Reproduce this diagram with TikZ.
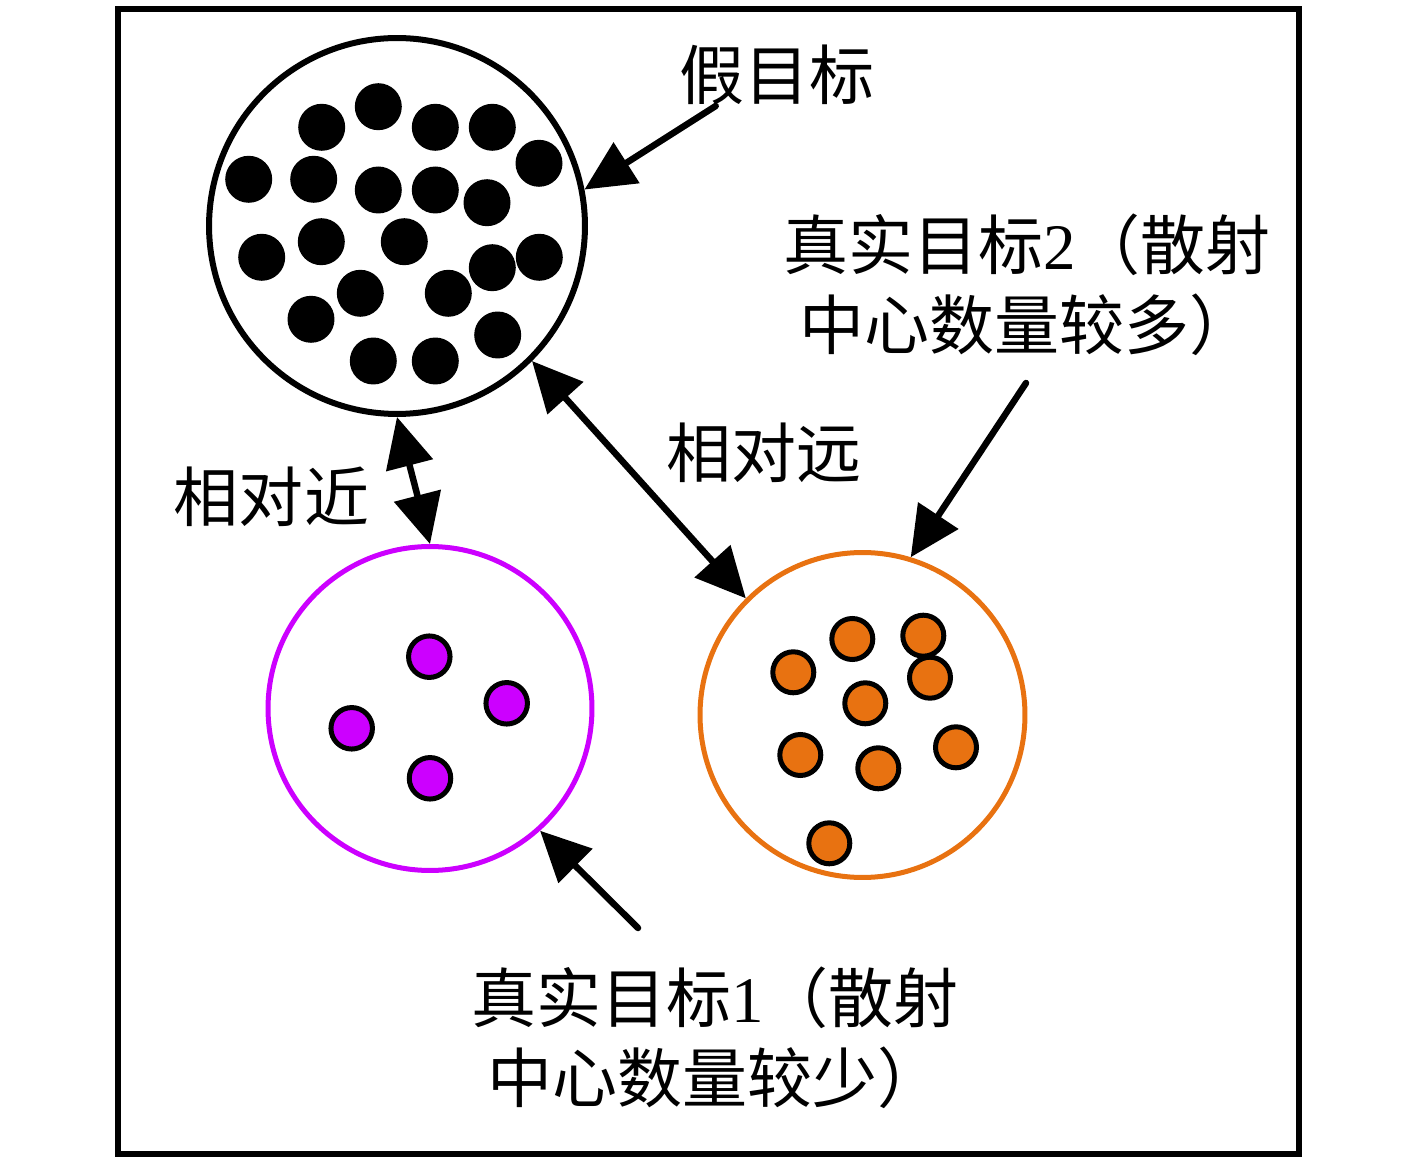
\documentclass[tikz,border=0pt]{standalone}
\usepackage{fontspec}
\setmainfont{Liberation Serif}
\newfontfamily\cjk{Noto Sans CJK SC}
\usetikzlibrary{arrows.meta}
\definecolor{violetline}{RGB}{204,0,255}
\definecolor{orangeline}{RGB}{232,114,17}
\tikzset{
  cluster/.style={circle, draw, inner sep=0pt},
  pointer/.style={line width=0.13cm, line cap=round, -{Triangle[length=1cm,width=0.94cm]}},
  twoway/.style={line width=0.13cm, {Triangle[length=1cm,width=0.94cm]}-{Triangle[length=1cm,width=0.94cm]}},
  label/.style={inner sep=0pt, align=center, font=\fontsize{37pt}{45.5pt}\selectfont\cjk}
}
\begin{document}
\begin{tikzpicture}[x=0.02cm, y=-0.02cm]
	\useasboundingbox (0,0) rectangle (1417,1165);
	
	% Draw the outer frame
	\draw[line width=0.12cm] (118,9) rectangle (1298.7,1154.3);
	
	% Draw the three clusters
	\node[cluster, line width=0.12cm, minimum size=7.52cm] (fake) at (397,226) {};
	\node[cluster, draw=violetline, line width=0.1cm, minimum size=6.48cm] (trueA) at (430,708.5) {};
	\node[cluster, draw=orangeline, line width=0.1cm, minimum size=6.5cm] (trueB) at (862.5,715) {};
	
	% Draw the scattering centres of the false target
	\foreach \x/\y in {321.7/127.3, 378.3/106.7, 435.3/127.3, 492.3/127.3, 539/163.3,
		248.7/179.3, 313.7/179.3, 378.3/190, 435.3/190, 487/202.7,
		261.7/257.3, 321.3/241.7, 404.3/241.7, 492.3/267.7, 539.3/257.3,
		360.3/293.3, 448.3/293.3, 311/319.3, 497.7/335, 373.3/361, 435.3/361}
		\fill (\x,\y) circle (0.47cm);
	
	% Draw the scattering centres of true target 1
	\foreach \x/\y in {429.3/656.7, 506.7/703.3, 351.7/728.3, 430/778.3}
		\filldraw[fill=violetline, line width=0.1cm] (\x,\y) circle (0.415cm);
	
	% Draw the scattering centres of true target 2
	\foreach \x/\y in {793.3/672.3, 852.3/639, 923.3/635.7, 930/677.7, 865.3/703.3,
		800.3/755, 878.3/768.3, 956/747.3, 829.3/843.3}
		\filldraw[fill=orangeline, line width=0.1cm] (\x,\y) circle (0.41cm);
	
	% Draw the labels
	\node[label] (fakelabel) at (777,75) {假目标};
	\node[label] (nearlabel) at (271.5,497) {相对近};
	\node[label] (farlabel) at (764,453) {相对远};
	\node[label] (trueBlabel) at (1027,285) {真实目标{\rmfamily 2}（散射\\中心数量较多）};
	\node[label] (trueAlabel) at (715,1038) {真实目标{\rmfamily 1}（散射\\中心数量较少）};
	
	% Draw the arrows
	\coordinate (fakefrom) at (715.7,106);
	\coordinate (trueBfrom) at (1026,383);
	\coordinate (trueAfrom) at (638,928);
	\draw[pointer] (fakefrom) -- (fake.11);
	\draw[pointer] (trueBfrom) -- (trueB.73);
	\draw[pointer] (trueAfrom) -- (trueA.-48);
	\draw[twoway] (fake.-90) -- (trueA.90);
	\draw[twoway] (fake.-45.5) -- (trueB.135);
\end{tikzpicture}
\end{document}
